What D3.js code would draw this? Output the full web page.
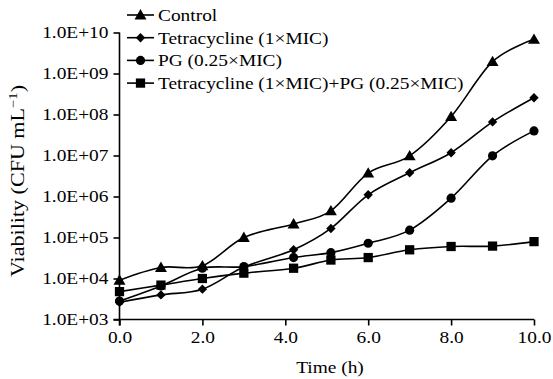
<!DOCTYPE html>
<html>
<head>
<meta charset="utf-8">
<script src="https://cdn.jsdelivr.net/npm/d3@7"></script>
<style>
  html, body { margin: 0; padding: 0; background: #fff; }
  svg text { font-family: "Liberation Serif", "Times New Roman", serif; fill: #000; }
</style>
</head>
<body>
<svg id="chart" width="553" height="379"></svg>
<script>
// hours sampled
const times = [0, 1, 2, 3, 4.2, 5.1, 6, 7, 8, 9, 10];

// CFU per mL
const control = [9100, 18600, 20400, 100000, 214000, 447000, 3720000, 9800000, 89000000, 1950000000, 6800000000];
const tetra = [2630, 3980, 5500, 19000, 50100, 166000, 1100000, 3800000, 11700000, 66000000, 257000000];
const pg = [2820, 6600, 17800, 19500, 32400, 42700, 72400, 151000, 912000, 9800000, 39800000];
const combo = [4790, 6900, 10000, 13500, 17800, 28200, 32400, 50100, 60300, 61700, 79400];

const seriesNames = ['Control', 'Tetracycline (1\u00d7MIC)', 'PG (0.25\u00d7MIC)', 'Tetracycline (1\u00d7MIC)+PG (0.25\u00d7MIC)'];
const xTicks = [0, 2, 4, 6, 8, 10];
const yTicks = [1e3, 1e4, 1e5, 1e6, 1e7, 1e8, 1e9, 1e10];

const svg = d3.select('#chart');
const FS = 17;
const STRETCH = 1.14; // the reference type is a bit wide

const x = d3.scaleLinear().domain([0, 10]).range([119.5, 534]);
const y = d3.scaleLog().domain([1e3, 1e10]).range([319.5, 32.5]);

const fmtY = v => '1.0E+' + String(Math.round(Math.log10(v))).padStart(2, '0');

function widen(sel, k) {
  sel.each(function () {
    let w = this.getComputedTextLength();
    d3.select(this).attr('textLength', w * (k || STRETCH)).attr('lengthAdjust', 'spacingAndGlyphs');
  });
}

// axes
const xAxis = d3.axisBottom(x).tickValues(xTicks).tickFormat(d3.format('.1f')).tickSize(6).tickSizeOuter(0);
const yAxis = d3.axisLeft(y).tickValues(yTicks).tickFormat(fmtY).tickSize(6).tickSizeOuter(0);

const gx = svg.append('g').attr('transform', `translate(0, ${y(1e3)})`).call(xAxis);
const gy = svg.append('g').attr('transform', `translate(${x(0)}, 0)`).call(yAxis);

[gx, gy].forEach(g => {
  g.selectAll('path, line').attr('stroke', '#000').attr('stroke-width', 1.6);
  g.selectAll('text').attr('font-size', FS).attr('font-family', '"Liberation Serif", serif').attr('fill', '#000');
});
gx.selectAll('text').attr('dy', '0.95em').attr('y', 7);
gy.selectAll('text').attr('x', -11);
widen(gx.selectAll('text'));
widen(gy.selectAll('text'));
gx.select('.domain').attr('d', `M${x(0) - 6},0H${x(10)}`);
gy.select('.domain').attr('d', `M0,${y(1e3) + 6}V${y(1e10)}`);

// axis titles
svg.append('text')
  .attr('x', 330).attr('y', 373)
  .attr('text-anchor', 'middle')
  .attr('font-size', FS)
  .text('Time (h)')
  .call(widen);

const yt = svg.append('text')
  .attr('transform', 'translate(24, 181) rotate(-90)')
  .attr('text-anchor', 'middle')
  .attr('font-size', 18);
yt.append('tspan').text('Viability (CFU mL');
yt.append('tspan').attr('dy', -7).attr('font-size', 12).text('\u22121');
yt.append('tspan').attr('dy', 7).text(')');
yt.attr('textLength', 192).attr('lengthAdjust', 'spacingAndGlyphs');

// markers
const sym = [d3.symbolTriangle, d3.symbolDiamond2, d3.symbolCircle, d3.symbolSquare];
const symSize = [62, 56, 66, 86];

function marker(g, i) {
  let s = d3.symbol().type(sym[i]).size(symSize[i]);
  let p = g.append('path').attr('d', s()).attr('fill', '#000');
  if (i === 0) p.attr('transform', 'translate(0,1)');
  return p;
}

const allSeries = [control, tetra, pg, combo];
const line = d3.line().curve(d3.curveCardinal.tension(0))
  .x(d => x(d[0])).y(d => y(d[1]));

// draw order so control sits on top like the reference
const order = [1, 2, 3, 0];
order.forEach(i => {
  let pts = times.map((t, k) => [t, allSeries[i][k]]);
  let g = svg.append('g');
  g.append('path').datum(pts)
    .attr('d', line)
    .attr('fill', 'none')
    .attr('stroke', '#000')
    .attr('stroke-width', 1.6);
  pts.forEach(p => {
    let m = g.append('g').attr('transform', `translate(${x(p[0])}, ${y(p[1])})`);
    marker(m, i);
  });
});

// legend
const legend = svg.append('g');
seriesNames.forEach((name, i) => {
  let row = legend.append('g').attr('transform', `translate(0, ${15 + i * 22.7})`);
  row.append('line').attr('x1', 127).attr('x2', 154).attr('y1', 0).attr('y2', 0)
    .attr('stroke', '#000').attr('stroke-width', 1.6);
  let m = row.append('g').attr('transform', 'translate(140.5, 0)');
  marker(m, i);
  row.append('text').attr('x', 158).attr('y', 6).attr('font-size', FS).text(name).call(widen);
});
</script>
</body>
</html>
